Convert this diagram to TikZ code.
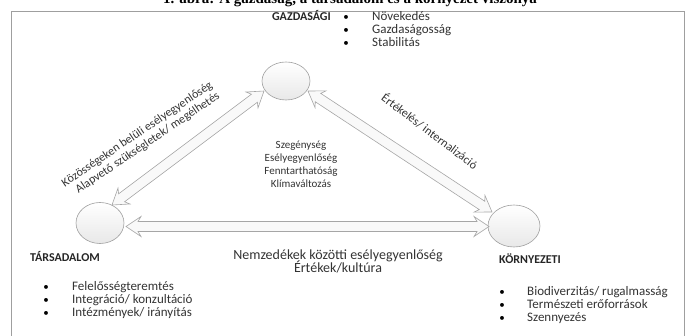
\documentclass[tikz,border=0pt]{standalone}
\usepackage{fontspec}
\setmainfont{Carlito}
\newfontfamily\titlefont{Liberation Serif}
\usetikzlibrary{calc,shapes.geometric}
\tikzset{
  circ/.style={ellipse, draw=gray!75, line width=0.6pt, top color=white, bottom color=gray!18, inner sep=0pt},
  blockarrow/.style={draw=gray!70, line width=0.6pt, fill=gray!5, line join=miter},
  txt/.style={inner sep=0pt, text=black!80},
  listtxt/.style={txt, font=\fontsize{13}{14}\selectfont, anchor=base west},
  midtxt/.style={txt, font=\fontsize{11}{13}\selectfont, anchor=base},
  lowtxt/.style={txt, font=\fontsize{14}{15}\selectfont, anchor=base},
  diagtxt/.style={txt, font=\fontsize{12}{14}\selectfont},
  hdr/.style={inner sep=0pt, font=\fontsize{12}{14}\selectfont\bfseries, text=black!85},
  bul/.style={inner sep=0pt, font=\fontsize{11}{12}\selectfont, anchor=base},
}
\newcommand\dblarrow[2]{%
  \draw[blockarrow] (#1)
   -- ($(#1)!15pt!(#2)!10pt!90:(#2)$)
   -- ($(#1)!12pt!(#2)!5pt!90:(#2)$)
   -- ($(#2)!12pt!(#1)!5pt!-90:(#1)$)
   -- ($(#2)!15pt!(#1)!10pt!-90:(#1)$)
   -- (#2)
   -- ($(#2)!15pt!(#1)!10pt!90:(#1)$)
   -- ($(#2)!12pt!(#1)!5pt!90:(#1)$)
   -- ($(#1)!12pt!(#2)!5pt!-90:(#2)$)
   -- ($(#1)!15pt!(#2)!10pt!-90:(#2)$)
   -- cycle;}
\begin{document}
\begin{tikzpicture}[x=1pt,y=-1pt]
\useasboundingbox (0,0) rectangle (695,336);
% title (partly cut off by the page edge)
\node[inner sep=0pt, anchor=base, font=\titlefont\fontsize{15}{17}\selectfont\bfseries] (title) at (350,4) {1. ábra: A gazdaság, a társadalom és a környezet viszonya};
% frame
\draw[gray!75, line width=0.9pt] (11,345) -- (11,11.5) -- (684,11.5) -- (684,345);
% circles
\node[circ, minimum width=48pt, minimum height=38pt] (T) at (286,81) {};
\node[circ, minimum width=48pt, minimum height=41pt] (L) at (100,223) {};
\node[circ, minimum width=52pt, minimum height=42pt] (R) at (514,226) {};
% arrow end points
\coordinate (la) at (112,205);
\coordinate (lb) at (264,91);
\coordinate (ra) at (308,91);
\coordinate (rb) at (492,212);
\coordinate (ba) at (126,226.5);
\coordinate (bb) at (489,226.5);
\dblarrow{la}{lb}
\dblarrow{ra}{rb}
\dblarrow{ba}{bb}
% GAZDASAGI
\node[hdr, anchor=base east] (gh) at (331,20.5) {GAZDASÁGI};
\node[bul] (gb1) at (346,20.5) {•};
\node[bul] (gb2) at (346,33.5) {•};
\node[bul] (gb3) at (346,46.5) {•};
\node[listtxt] (g1) at (372,20.5) {Növekedés};
\node[listtxt] (g2) at (372,33.5) {Gazdaságosság};
\node[listtxt] (g3) at (372,46.5) {Stabilitás};
% center
\node[midtxt] (c1) at (301,148.5) {Szegénység};
\node[midtxt] (c2) at (301,161.5) {Esélyegyenlőség};
\node[midtxt] (c3) at (301,174.5) {Fenntarthatóság};
\node[midtxt] (c4) at (301,187.5) {Klímaváltozás};
% bottom arrow labels
\node[lowtxt] (n1) at (338,259.5) {Nemzedékek közötti esélyegyenlőség};
\node[lowtxt] (n2) at (338,272.5) {Értékek/kultúra};
% diagonal labels
\node[diagtxt, rotate=34] (d1) at (137.3,134.5) {Közösségeken belüli esélyegyenlőség};
\node[diagtxt, rotate=34] (d2) at (147.7,143.2) {Alapvető szükségletek/ megélhetés};
\node[diagtxt, rotate=-37] (d3) at (430,131) {Értékelés/ internalizáció};
% TARSADALOM
\node[hdr, anchor=base west] (th) at (30,261.5) {TÁRSADALOM};
\node[bul] (tb1) at (46,290.5) {•};
\node[bul] (tb2) at (46,303.5) {•};
\node[bul] (tb3) at (46,316.5) {•};
\node[listtxt] (t1) at (72,290.5) {Felelősségteremtés};
\node[listtxt] (t2) at (72,303.5) {Integráció/ konzultáció};
\node[listtxt] (t3) at (72,316.5) {Intézmények/ irányítás};
% KORNYEZETI
\node[hdr, anchor=base west] (kh) at (499,263.5) {KÖRNYEZETI};
\node[bul] (kb1) at (502,295.5) {•};
\node[bul] (kb2) at (502,308.5) {•};
\node[bul] (kb3) at (502,321.5) {•};
\node[listtxt] (k1) at (527,295.5) {Biodiverzitás/ rugalmasság};
\node[listtxt] (k2) at (527,308.5) {Természeti erőforrások};
\node[listtxt] (k3) at (527,321.5) {Szennyezés};
\end{tikzpicture}
\end{document}
